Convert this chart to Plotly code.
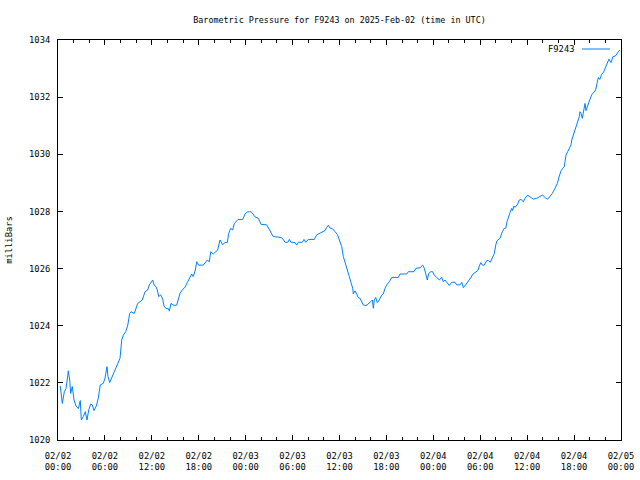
import pandas as pd
import plotly.graph_objects as go

start_time = "2025-02-02 00:00"
end_time = "2025-02-05 00:00"
station = "F9243"

# hours since 2025-02-02 00:00 UTC
hours = [
    0.29, 0.55, 0.81, 1.02, 1.24, 1.32, 1.50, 1.62, 1.83, 2.05, 2.30, 2.60, 2.85, 2.98, 3.24, 3.49, 3.71, 3.93,
    4.18, 4.39, 4.60, 4.90, 5.15, 5.41, 5.79, 6.01, 6.27, 6.39, 6.61, 6.94, 7.29, 7.55, 7.93, 8.15, 8.35, 8.66,
    8.91, 9.17, 9.34, 9.76, 10.19, 10.49, 10.78, 11.13, 11.47, 11.68, 11.98, 12.11, 12.28, 12.53, 12.70, 12.88,
    13.13, 13.39, 13.56, 13.81, 14.11, 14.24, 14.45, 14.84, 15.18, 15.39, 15.60, 15.95, 16.24, 16.54, 16.88,
    17.10, 17.30, 17.56, 17.74, 17.99, 18.58, 18.80, 19.09, 19.35, 19.53, 19.86, 20.12, 20.42, 20.72, 21.06,
    21.32, 21.65, 21.83, 22.09, 22.34, 22.55, 23.02, 23.62, 23.92, 24.21, 24.52, 24.68, 24.94, 25.19, 25.62,
    25.96, 26.69, 26.98, 27.33, 27.53, 28.52, 28.81, 29.03, 29.38, 29.58, 29.80, 30.31, 30.53, 30.73, 31.24,
    31.46, 31.68, 32.01, 32.78, 33.08, 33.38, 33.72, 34.15, 34.36, 34.57, 34.79, 35.08, 35.43, 35.72, 35.98,
    36.28, 36.49, 36.71, 37.00, 37.25, 37.47, 37.69, 37.77, 37.98, 38.20, 38.40, 38.62, 38.84, 39.04, 39.39,
    39.69, 39.99, 40.20, 40.33, 40.45, 40.63, 40.83, 41.09, 41.40, 41.60, 41.82, 42.04, 42.37, 42.68, 43.52,
    43.74, 44.60, 44.80, 45.53, 45.78, 46.30, 46.64, 46.85, 47.06, 47.23, 47.41, 47.67, 47.92, 48.09, 48.43,
    48.77, 49.07, 49.28, 49.49, 49.92, 50.04, 50.35, 50.77, 50.99, 51.41, 51.63, 51.83, 52.14, 52.48, 52.82,
    53.04, 53.42, 53.68, 53.89, 54.07, 54.27, 54.52, 54.83, 55.03, 55.29, 55.54, 55.80, 55.98, 56.14, 56.53,
    56.82, 57.08, 57.26, 57.42, 57.59, 57.81, 58.03, 58.15, 58.28, 58.45, 58.79, 58.99, 59.21, 59.51, 59.72,
    60.07, 60.36, 60.79, 61.22, 61.64, 61.94, 62.19, 62.37, 62.63, 62.92, 63.22, 63.56, 63.86, 64.11, 64.33,
    64.55, 64.75, 64.84, 64.97, 65.18, 65.39, 65.61, 65.70, 65.90, 66.12, 66.34, 66.54, 66.67, 66.76, 66.89,
    67.05, 67.23, 67.40, 67.52, 67.74, 68.00, 68.25, 68.51, 68.76, 68.93, 69.10, 69.28, 69.53, 69.79, 70.04,
    70.30, 70.46, 70.72, 70.98, 71.28, 71.54, 71.84,
]

pressure = [
    1021.89, 1021.28, 1021.69, 1021.80, 1022.24, 1022.42, 1022.10, 1021.63, 1021.87, 1021.40, 1021.19, 1021.10,
    1021.38, 1020.70, 1020.82, 1020.99, 1020.70, 1021.05, 1021.26, 1021.23, 1021.03, 1021.19, 1021.46, 1021.93,
    1021.98, 1022.16, 1022.57, 1022.22, 1022.01, 1022.22, 1022.45, 1022.57, 1022.86, 1023.50, 1023.67, 1023.79,
    1024.00, 1024.43, 1024.49, 1024.43, 1024.78, 1024.84, 1024.90, 1025.19, 1025.25, 1025.43, 1025.58, 1025.60,
    1025.43, 1025.37, 1025.25, 1025.02, 1025.08, 1024.93, 1024.69, 1024.60, 1024.60, 1024.51, 1024.78, 1024.71,
    1024.72, 1024.90, 1025.13, 1025.27, 1025.35, 1025.51, 1025.72, 1025.81, 1025.72, 1025.95, 1026.24, 1026.12,
    1026.12, 1026.20, 1026.30, 1026.24, 1026.59, 1026.51, 1026.59, 1026.65, 1027.00, 1026.83, 1026.91, 1026.91,
    1027.23, 1027.41, 1027.35, 1027.58, 1027.72, 1027.72, 1027.91, 1027.98, 1027.99, 1027.99, 1027.91, 1027.81,
    1027.76, 1027.55, 1027.53, 1027.37, 1027.23, 1027.12, 1027.09, 1027.02, 1026.92, 1026.92, 1027.02, 1026.92,
    1026.91, 1026.82, 1026.92, 1026.92, 1027.02, 1026.92, 1027.02, 1027.02, 1027.18, 1027.22, 1027.29, 1027.33,
    1027.44, 1027.52, 1027.42, 1027.40, 1027.29, 1027.20, 1027.00, 1026.77, 1026.42, 1026.24, 1025.95, 1025.72,
    1025.51, 1025.31, 1025.11, 1025.22, 1025.11, 1024.98, 1024.96, 1024.81, 1024.73, 1024.70, 1024.76, 1024.84,
    1024.90, 1024.61, 1024.90, 1024.99, 1024.81, 1024.90, 1025.07, 1025.11, 1025.31, 1025.43, 1025.54, 1025.69,
    1025.69, 1025.81, 1025.81, 1025.89, 1025.89, 1026.01, 1026.03, 1026.12, 1026.01, 1025.78, 1025.60, 1025.83,
    1025.89, 1025.89, 1025.78, 1025.69, 1025.60, 1025.69, 1025.54, 1025.60, 1025.48, 1025.41, 1025.52, 1025.52,
    1025.43, 1025.43, 1025.52, 1025.33, 1025.43, 1025.54, 1025.69, 1025.80, 1025.86, 1025.93, 1026.09, 1026.21,
    1026.12, 1026.12, 1026.28, 1026.28, 1026.22, 1026.36, 1026.53, 1026.82, 1026.97, 1027.06, 1027.29, 1027.41,
    1027.41, 1027.64, 1027.82, 1027.96, 1028.11, 1028.03, 1028.19, 1028.14, 1028.26, 1028.40, 1028.42, 1028.34,
    1028.46, 1028.57, 1028.51, 1028.43, 1028.46, 1028.52, 1028.57, 1028.52, 1028.46, 1028.43, 1028.52, 1028.63,
    1028.81, 1028.98, 1029.24, 1029.42, 1029.51, 1029.57, 1029.74, 1029.97, 1030.09, 1030.24, 1030.33, 1030.50,
    1030.68, 1030.85, 1031.03, 1031.20, 1031.32, 1031.49, 1031.43, 1031.26, 1031.61, 1031.78, 1031.53, 1031.67,
    1031.90, 1032.08, 1032.17, 1032.25, 1032.48, 1032.69, 1032.62, 1032.80, 1032.89, 1033.07, 1033.28, 1033.33,
    1033.21, 1033.42, 1033.44, 1033.53, 1033.65,
]

tick_hours = [0, 6, 12, 18, 24, 30, 36, 42, 48, 54, 60, 66, 72]
tick_labels = ["02/02<br>00:00", "02/02<br>06:00", "02/02<br>12:00", "02/02<br>18:00",
               "02/03<br>00:00", "02/03<br>06:00", "02/03<br>12:00", "02/03<br>18:00",
               "02/04<br>00:00", "02/04<br>06:00", "02/04<br>12:00", "02/04<br>18:00",
               "02/05<br>00:00"]
y_ticks = [1020, 1022, 1024, 1026, 1028, 1030, 1032, 1034]

base = pd.Timestamp(start_time)
x_times = [base + pd.Timedelta(hours=h) for h in hours]
tick_times = [base + pd.Timedelta(hours=h) for h in tick_hours]

FONT = "DejaVu Sans Mono"
FS = 8.8
LINE_COLOR = "rgb(0,128,255)"

fig = go.Figure()
fig.add_trace(go.Scatter(x=x_times, y=pressure, mode="lines",
                         line=dict(color=LINE_COLOR, width=1), name=station,
                         showlegend=False))

fig.update_layout(
    width=640, height=480,
    margin=dict(l=58, r=19, t=40, b=40, autoexpand=False),
    paper_bgcolor="white", plot_bgcolor="white",
    font=dict(family=FONT, size=FS, color="black"),
    title=dict(text=f"Barometric Pressure for {station} on 2025-Feb-02 (time in UTC)",
               x=0.5, xref="paper", y=1 - 20 / 480, yanchor="middle",
               font=dict(family=FONT, size=8.4, color="black")),
)

fig.update_xaxes(
    range=[base, pd.Timestamp(end_time)],
    tickvals=tick_times, ticktext=tick_labels,
    ticks="inside", ticklen=5, tickcolor="black", tickwidth=1,
    minor=dict(dtick=2 * 3600 * 1000, tick0=base, ticks="inside", ticklen=3,
               tickcolor="black", tickwidth=1, showgrid=False),
    showline=True, linecolor="black", linewidth=1, mirror="ticks",
    showgrid=False, zeroline=False, automargin=False,
    ticklabelstandoff=7,
    tickfont=dict(family=FONT, size=FS),
)

fig.update_yaxes(
    range=[1020, 1034],
    tickvals=y_ticks, ticktext=[str(v) for v in y_ticks],
    ticks="inside", ticklen=5, tickcolor="black", tickwidth=1,
    showline=True, linecolor="black", linewidth=1, mirror="ticks",
    showgrid=False, zeroline=False, automargin=False,
    ticklabelstandoff=5,
    tickfont=dict(family=FONT, size=FS),
    title=dict(text="milliBars", font=dict(family=FONT, size=FS), standoff=14),
)

# gnuplot-style key: label left of the line sample
fig.add_annotation(text=station, xref="paper", yref="paper",
                   x=(576 - 58) / 563, y=(440 - 49) / 400, xanchor="right", yanchor="middle",
                   showarrow=False, font=dict(family=FONT, size=FS, color="black"))
fig.add_shape(type="line", xref="paper", yref="paper",
              x0=(582 - 58) / 563, x1=(610 - 58) / 563,
              y0=(440 - 49) / 400, y1=(440 - 49) / 400,
              line=dict(color=LINE_COLOR, width=1))

fig.write_html("out.html", config={"displayModeBar": False},
               post_script="document.body.style.margin='0';document.body.style.padding='0';")
